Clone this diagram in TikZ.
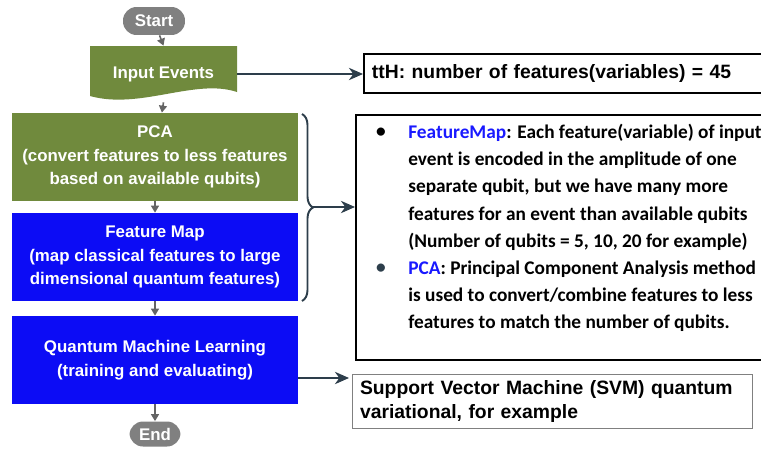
\documentclass[tikz,border=0pt]{standalone}
\usepackage{fontspec}
\setmainfont{Liberation Sans}
\newfontfamily\calib{Carlito}
\usetikzlibrary{arrows.meta,decorations.pathreplacing}
\definecolor{olivebox}{RGB}{112,138,61}
\definecolor{bluebox}{RGB}{12,12,245}
\definecolor{pillgray}{RGB}{128,128,128}
\definecolor{flowgray}{RGB}{100,100,100}
\definecolor{slate}{RGB}{45,62,75}
\definecolor{keyblue}{RGB}{25,25,255}

\begin{document}
\begin{tikzpicture}[x=0.02cm,y=-0.02cm,
  pill/.style={fill=pillgray,text=white,rounded corners=0.27cm,font=\bfseries\fontsize{9.6}{12}\selectfont,inner sep=0},
  stepbox/.style={text=white,minimum width=5.72cm,minimum height=1.76cm,align=center,inner sep=0,
    font=\bfseries\fontsize{9.6}{13.3}\selectfont},
  flow/.style={draw=flowgray,line width=0.9pt,-{Triangle[length=4pt,width=4.5pt]}},
  link/.style={draw=slate,line width=1.2pt,-{Stealth[length=8pt,width=7pt,inset=2.5pt]}},
  notebox/.style={draw=black,line width=1.2pt,inner sep=0,anchor=north west}]
  \useasboundingbox (0,0) rectangle (761,450);
  \clip (0,0) rectangle (761,450);

  \node[pill,minimum width=1.24cm,minimum height=0.56cm] (start) at (154,21) {Start};
  \fill[olivebox] (90,46) -- (237,46) -- (237,92)
    .. controls (195,78) and (140,110) .. (90,96) -- cycle;
  \node[stepbox,minimum width=2.94cm,minimum height=1.12cm] (inp) at (163.5,74) {Input Events};
  \node[stepbox,fill=olivebox] (pca) at (155,157) {PCA\\(convert features to less features\\based on available qubits)};
  \node[stepbox,fill=bluebox] (fmap) at (155,257) {Feature Map\\(map classical features to large\\dimensional quantum features)};
  \node[stepbox,fill=bluebox] (qml) at (155,360) {Quantum Machine Learning\\(training and evaluating)};
  \node[pill,minimum width=1.02cm,minimum height=0.5cm] (end) at (155,434) {End};

  \draw[flow] (start) -- (inp.north);
  \draw[flow] (inp.south) -- (pca);
  \draw[flow] (pca) -- (fmap);
  \draw[flow] (fmap) -- (qml);
  \draw[flow] (qml) -- (end);

  % notes on the right
  \node[notebox,minimum width=8.4cm,minimum height=0.78cm,text width=8.2cm,inner xsep=4.5pt,align=left,
    font=\bfseries\fontsize{11}{13}\selectfont] (tth) at (363,53) {ttH: number of features(variables) = 45};
  \node[notebox,minimum width=8.4cm,minimum height=4.9cm] (note) at (355,114) {};
  \node[font=\calib\bfseries\fontsize{11}{13}\selectfont,inner sep=0] (dot1) at (381,133) {•};
  \node[font=\calib\bfseries\fontsize{11}{13}\selectfont,inner sep=0,text=slate] (dot2) at (381,269) {•};
  \node[anchor=north west,inner sep=0,align=left,font=\calib\bfseries\fontsize{11}{15.45}\selectfont] (notetxt) at (408,124)
    {{\color{keyblue}FeatureMap}: Each feature(variable) of input\\
     event is encoded in the amplitude of one\\
     separate qubit, but we have many more\\
     features for an event than available qubits\\
     (Number of qubits = 5, 10, 20 for example)\\
     {\color{keyblue}PCA}: Principal Component Analysis method\\
     is used to convert/combine features to less\\
     features to match the number of qubits.};
  \node[draw=gray,line width=0.6pt,anchor=north west,minimum width=8cm,minimum height=1.08cm,text width=7.7cm,
    inner xsep=0.15cm,align=left,font=\bfseries\fontsize{11}{13.8}\selectfont] (svm) at (352,374)
    {Support Vector Machine (SVM) quantum\\variational, for example\vphantom{p}};

  \coordinate (bracetip) at (313,207);
  \coordinate (svmin) at (349,378);
  \draw[slate,line width=1.1pt,decorate,decoration={brace,amplitude=0.22cm}] (302,114) -- (302,301);
  \draw[link] (inp.east) -- (inp.east -| tth.west);
  \draw[link] (bracetip) -- (bracetip -| note.west);
  \draw[link] (qml.east |- svmin) -- (svmin);
\end{tikzpicture}
\end{document}
